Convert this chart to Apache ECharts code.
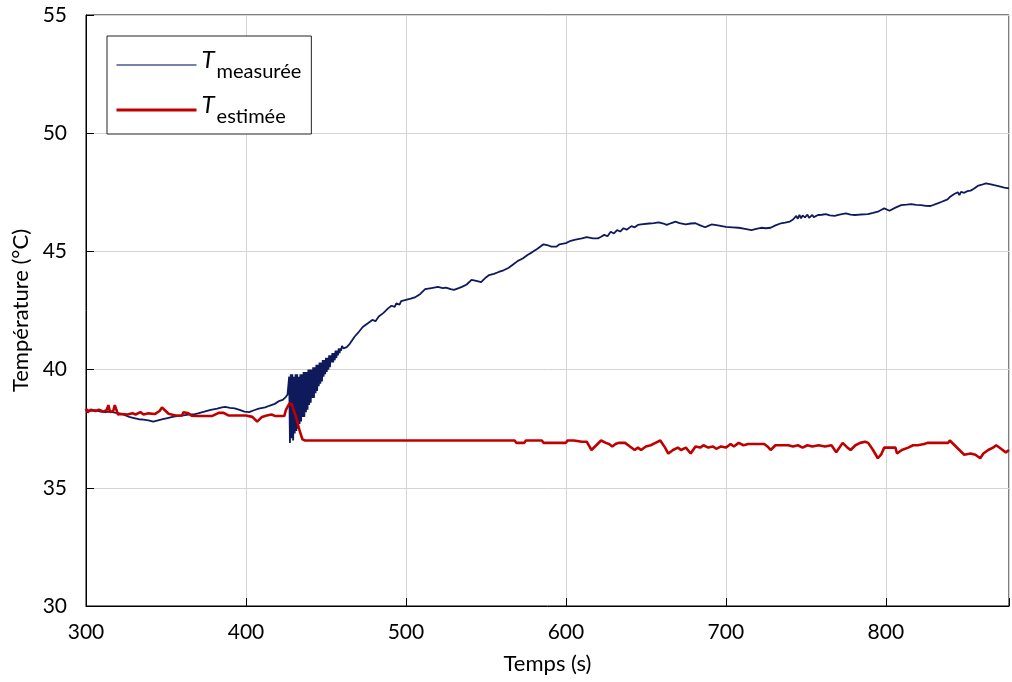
<!DOCTYPE html>
<html>
<head>
<meta charset="utf-8">
<script src="https://cdn.jsdelivr.net/npm/echarts@6/dist/echarts.min.js"></script>
<style>
html,body{margin:0;padding:0;background:#fff;}
#chart{width:1012px;height:682px;}
</style>
</head>
<body>
<div id="chart"></div>
<script>
// ---------- data (time s, temperature °C) ----------
const xTicks = [300, 400, 500, 600, 700, 800];
const yTicks = [30, 35, 40, 45, 50, 55];

const measuredBefore = [
  [300,38.3],[303,38.25],[306,38.28],[309,38.22],[312,38.2],[315,38.22],[318,38.18],[321,38.15],
  [324,38.08],[327,38.0],[330,37.95],[333,37.9],[336,37.88],[339,37.85],[342,37.8],[345,37.85],
  [348,37.9],[351,37.95],[354,38.0],[357,38.03],[360,38.05],[364,38.1],[368,38.12],[370,38.15],
  [374,38.22],[378,38.3],[382,38.35],[385,38.4],[387,38.42],[390,38.38],[393,38.36],[396,38.3],
  [399,38.22],[402,38.2],[405,38.28],[408,38.35],[412,38.4],[415,38.48],[418,38.55],[421,38.68],
  [423,38.72],[425,38.85],[426,38.95]
];
const measuredOscillation = [
  [427,39.7],[427.5,36.9],[428,39.8],[428.5,37.1],[429,39.8],[429.5,37.0],[430,39.7],[430.5,37.3],
  [431,39.8],[431.5,37.4],[432,39.8],[432.5,37.5],[433,39.7],[433.5,37.7],[434,39.8],[434.5,37.8],
  [435,39.8],[435.5,38.0],[436,39.9],[436.5,38.0],[437,39.9],[437.5,38.2],[438,39.9],[438.5,38.3],
  [439,40.0],[439.5,38.5],[440,40.0],[440.5,38.6],[441,40.0],[441.5,38.8],[442,40.1],[442.5,38.8],
  [443,40.1],[443.5,39.0],[444,40.2],[444.5,39.1],[445,40.2],[445.5,39.3],[446,40.3],[446.5,39.4],
  [447,40.3],[447.5,39.5],[448,40.4],[448.5,39.7],[449,40.4],[449.5,39.8],[450,40.5],[450.5,39.9],
  [451,40.5],[451.5,40.0],[452,40.6],[452.5,40.1],[453,40.6],[453.5,40.3],[454,40.7],[454.5,40.3],
  [455,40.7],[455.5,40.4],[456,40.8],[456.5,40.5],[457,40.8],[457.5,40.6],[458,40.9],[458.5,40.7],
  [459,40.9],[459.5,40.8],[460,41.0]
];
const measuredAfter = [
  [461,40.9],[463,40.95],[465,41.1],[468,41.4],[470,41.55],[471,41.5],[473,41.8],[474,41.72],[476,41.95],
  [477,41.88],[479,42.1],[481,42.05],[483,42.25],[484,42.18],[486,42.4],[487,42.33],[489,42.6],[490,42.52],
  [491,42.7],[493,42.65],[494,42.8],[496,42.75],[497,42.9],[500,42.95],[503,43.0],[506,43.07],[509,43.2],
  [512,43.4],[516,43.45],[520,43.5],[523,43.45],[525,43.47],[528,43.4],[530,43.37],[533,43.45],[535,43.5],
  [538,43.6],[541,43.8],[544,43.75],[547,43.7],[550,43.9],[552,44.0],[555,44.05],[558,44.13],[561,44.2],
  [564,44.3],[567,44.45],[570,44.6],[573,44.7],[576,44.85],[579,44.97],[582,45.1],[586,45.3],[589,45.25],
  [591,45.2],[594,45.2],[596,45.3],[600,45.35],[603,45.45],[606,45.5],[610,45.55],[613,45.6],[617,45.55],
  [620,45.55],[622,45.62],[623,45.55],[624,45.7],[626,45.64],[628,45.83],[630,45.76],[632,45.9],[634,45.84],
  [636,45.98],[638,45.92],[641,46.07],[643,46.02],[645,46.12],[647,46.14],[652,46.18],[655,46.2],[658,46.23],
  [661,46.18],[663,46.12],[666,46.2],[668.5,46.26],[671,46.2],[675,46.14],[678,46.18],[681,46.19],[684,46.1],
  [687,46.02],[689,46.08],[691,46.14],[695,46.1],[700,46.04],[704,46.02],[708,46.0],[712,45.95],[716,45.9],
  [719,45.95],[722,46.0],[725,45.98],[728,46.0],[731,46.1],[734.5,46.19],[737,46.22],[740,46.26],[742,46.35],
  [744,46.5],[745,46.38],[746,46.55],[747,46.4],[748,46.52],[749.5,46.44],[751,46.56],[752,46.42],[754,46.54],
  [755,46.45],[757.6,46.54],[760,46.55],[762.5,46.58],[765,46.52],[768,46.5],[771,46.56],[775,46.61],[778,46.56],
  [780.7,46.54],[784,46.56],[788.8,46.58],[792,46.63],[795,46.68],[797,46.75],[799,46.82],[802.3,46.72],[806,46.85],
  [809.6,46.96],[813,46.98],[815.8,47.0],[819,46.97],[822,46.96],[825,46.93],[828,46.92],[832.4,47.03],[835,47.1],
  [838.6,47.2],[840,47.3],[842.8,47.43],[844,47.35],[845,47.5],[846,47.38],[847,47.52],[849,47.48],[850,47.4],
  [851,47.55],[853,47.57],[855,47.65],[857.4,47.77],[860,47.82],[862.5,47.88],[865,47.85],[867.8,47.8],[871,47.75],
  [874,47.7],[877,47.67]
];
const estimated = [
  [300,38.35],[301,38.2],[303,38.3],[306,38.25],[308,38.3],[311,38.22],[313,38.3],[314,38.5],[315,38.2],
  [317,38.25],[318,38.5],[320,38.1],[322,38.12],[326,38.1],[329,38.15],[331,38.1],[334,38.2],[336,38.1],
  [339,38.15],[343,38.12],[346,38.25],[347.5,38.4],[349,38.3],[351.6,38.13],[356,38.06],[360,38.06],[361,38.2],
  [364,38.15],[366,38.05],[370,38.04],[375,38.04],[379,38.04],[383,38.17],[386,38.17],[389,38.06],[395,38.06],
  [400,38.06],[404,38.0],[407,37.8],[410,38.0],[413,38.06],[416,38.1],[418,38.04],[421,38.04],[424,38.04],
  [425,38.3],[427,38.55],[428.5,38.55],[431.3,38.0],[433.4,37.45],[435.3,37.05],[437,37.0],[480,37.0],
  [520,37.0],[568,37.0],[569,36.9],[574,36.9],[575,37.0],[585,37.0],[586,36.9],[600,36.9],[601,37.0],
  [605,37.0],[610,36.95],[613,36.95],[616,36.6],[619,36.8],[622,37.0],[625,36.9],[627,36.85],[629,36.75],
  [631,36.85],[633,36.9],[637,36.9],[640,36.75],[643,36.6],[645,36.7],[647,36.6],[650,36.75],[653,36.8],
  [656,36.9],[659,37.0],[662,36.7],[664,36.45],[667,36.6],[670,36.7],[672,36.6],[675,36.7],[678,36.45],
  [681,36.75],[684,36.7],[686,36.8],[689,36.7],[692,36.75],[694,36.65],[697,36.75],[700,36.7],[703,36.85],
  [705,36.75],[708,36.9],[711,36.8],[714,36.85],[716,36.85],[720,36.85],[724,36.85],[726,36.75],[728,36.6],
  [731,36.8],[735,36.8],[739,36.8],[742,36.75],[745,36.8],[748,36.7],[751,36.8],[754,36.75],[758,36.8],
  [762,36.75],[766,36.8],[769,36.5],[773,36.9],[776,36.7],[778,36.6],[781,36.8],[784,36.9],[787,36.95],
  [789,36.9],[792,36.6],[795,36.25],[797,36.4],[799,36.7],[802,36.7],[806,36.7],[807,36.45],[810,36.6],
  [814,36.7],[817,36.8],[820,36.8],[824,36.85],[826,36.9],[832,36.9],[836,36.9],[839,36.9],[840,37.0],
  [843,36.8],[846,36.6],[849,36.4],[853,36.45],[856,36.4],[859,36.25],[861,36.45],[864,36.6],[867,36.7],
  [869,36.8],[872,36.65],[875,36.5],[877,36.6]
];
const seriesNames = ['T_measurée', 'T_estimée'];

// ---------- chart ----------
const measured = measuredBefore.concat(measuredOscillation, measuredAfter);
const FONT = 'Lato, "Open Sans", sans-serif';
const chart = echarts.init(document.getElementById('chart'), null, {renderer: 'canvas'});
chart.setOption({
  animation: false,
  backgroundColor: '#fff',
  textStyle: {fontFamily: FONT},
  grid: {left: 86, right: 0, top: 15, bottom: 76, show: true, borderColor: '#000', borderWidth: 1, backgroundColor: 'transparent'},
  legend: {
    orient: 'vertical', left: 107, top: 36,
    backgroundColor: '#fff', borderColor: '#222', borderWidth: 1,
    padding: [12, 10, 7, 8], itemGap: 11, itemWidth: 80, itemHeight: 14,
    itemStyle: {opacity: 0},
    data: [
      {name: seriesNames[0], lineStyle: {width: 1.6, color: '#4a5890'}},
      {name: seriesNames[1], lineStyle: {width: 3, color: '#c00000'}}
    ],
    formatter: name => '{t|T}{s|' + name.slice(2) + '}',
    textStyle: {
      fontFamily: FONT, color: '#000',
      rich: {
        t: {fontSize: 24, fontStyle: 'italic', fontFamily: FONT, color: '#000', padding: [0, 2, 10, 0]},
        s: {fontSize: 20, fontFamily: FONT, color: '#000', padding: [14, 0, 0, 0]}
      }
    }
  },
  xAxis: {
    type: 'value', min: 300, max: 877, interval: 100,
    name: 'Temps (s)', nameLocation: 'middle', nameGap: 47,
    nameTextStyle: {fontSize: 22, color: '#000', fontFamily: FONT},
    axisLine: {lineStyle: {color: '#000', width: 1}},
    axisTick: {inside: true, length: 8, lineStyle: {color: '#000'}},
    axisLabel: {fontSize: 21, color: '#000', margin: 16, fontFamily: FONT,
      formatter: v => xTicks.indexOf(v) >= 0 ? String(v) : ''},
    splitLine: {show: true, lineStyle: {color: '#d4d4d4', width: 1}}
  },
  yAxis: {
    type: 'value', min: 30, max: 55, interval: 5,
    name: 'Température (°C)', nameLocation: 'middle', nameGap: 52,
    nameTextStyle: {fontSize: 22, color: '#000', fontFamily: FONT},
    axisLine: {show: true, lineStyle: {color: '#000', width: 1}},
    axisTick: {show: true, inside: true, length: 8, lineStyle: {color: '#000'}},
    axisLabel: {fontSize: 21, color: '#000', margin: 19, fontFamily: FONT,
      formatter: v => yTicks.indexOf(v) >= 0 ? String(v) : ''},
    splitLine: {show: true, lineStyle: {color: '#d4d4d4', width: 1}}
  },
  series: [
    {name: seriesNames[0], type: 'line', data: measured, symbol: 'none', showSymbol: false,
     lineStyle: {color: '#0e1a5c', width: 1.8}, itemStyle: {color: '#0e1a5c'}, z: 2},
    {name: seriesNames[1], type: 'line', data: estimated, symbol: 'none', showSymbol: false,
     lineStyle: {color: '#c00000', width: 2.6}, itemStyle: {color: '#c00000'}, z: 3}
  ]
});
</script>
</body>
</html>
